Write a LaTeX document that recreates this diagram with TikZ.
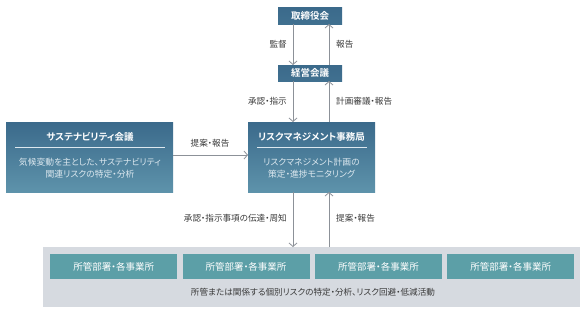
\documentclass[tikz,border=0pt]{standalone}
\usepackage{fontspec}
\setmainfont{Noto Sans CJK JP}[BoldFont={Noto Sans CJK JP Bold}, RawFeature=+palt]
\usetikzlibrary{arrows.meta,positioning}
\definecolor{boxtop}{HTML}{3B6A8B}
\definecolor{boxbot}{HTML}{5E93AB}
\definecolor{teal}{HTML}{5C9FA7}
\definecolor{graybg}{HTML}{D6DAE0}
\definecolor{arrowc}{HTML}{8C9198}
\definecolor{txt}{HTML}{3A3A3A}
\definecolor{lightt}{HTML}{DCE8EF}
\tikzset{
  topbox/.style={draw=none, top color=boxtop, bottom color=boxtop!85!boxbot, text=white, font=\bfseries\fontsize{9.5}{10}\selectfont, inner sep=0pt, anchor=north west},
  bigbox/.style={draw=none, top color=boxtop, bottom color=boxbot, inner sep=0pt, anchor=north west},
  unitbox/.style={draw=none, fill=teal, text=white, font=\fontsize{9.5}{10}\selectfont, inner sep=0pt, anchor=north west, minimum width=127pt, minimum height=25pt},
  conn/.style={draw=arrowc, line width=0.8pt, -{Straight Barb[length=3.5pt,width=8pt,line width=0.8pt]}},
  lbl/.style={text=txt, font=\fontsize{8.6}{10}\selectfont, inner sep=1pt},
  ttl/.style={text=white, font=\bfseries\fontsize{9.5}{10}\selectfont, inner sep=0pt},
  bdy/.style={text=lightt, font=\fontsize{8.8}{12}\selectfont, inner sep=0pt, align=center},
}
\begin{document}
\begin{tikzpicture}[x=1pt,y=-1pt]
\useasboundingbox (0,0) rectangle (587,314);
% top boxes
\node[topbox, minimum width=64pt, minimum height=17pt] (board) at (278,7) {取締役会};
\node[topbox, minimum width=64pt, minimum height=16pt] (mgmt) at (278,65) {経営会議};
% big boxes
\node[bigbox, minimum width=127pt, minimum height=70pt] (rm) at (248,122) {};
\node[bigbox, minimum width=167pt, minimum height=70pt] (sus) at (6,122) {};
\node[ttl] (rmt) at (311.5,137) {リスクマネジメント事務局};
\draw[lightt, line width=0.6pt] (257,147) -- (367,147);
\node[bdy] (rmb) at (311.5,168) {リスクマネジメント計画の\\策定・進捗モニタリング};
\node[ttl] (sust) at (90,137) {サステナビリティ会議};
\draw[lightt, line width=0.6pt] (15,147) -- (165,147);
\node[bdy] (susb) at (90,168) {気候変動を主とした、サステナビリティ\\関連リスクの特定・分析};
% bottom gray area
\node[draw=none, fill=graybg, inner sep=0pt, anchor=north west, minimum width=537pt, minimum height=60pt] (bg) at (43,247) {};
\node[unitbox] (u1) at (50,254) {所管部署・各事業所};
\node[unitbox] (u2) at (182.3,254) {所管部署・各事業所};
\node[unitbox] (u3) at (314.7,254) {所管部署・各事業所};
\node[unitbox] (u4) at (447,254) {所管部署・各事業所};
\node[lbl, text=txt] (act) at (313,292) {所管または関係する個別リスクの特定・分析、リスク回避・低減活動};
% coordinates for arrows
\coordinate (a1s) at (293,24); \coordinate (a1e) at (293,65);
\coordinate (b1s) at (329,65); \coordinate (b1e) at (329,24);
\coordinate (a2s) at (293,81); \coordinate (a2e) at (293,122);
\coordinate (b2s) at (329,122); \coordinate (b2e) at (329,81);
\coordinate (a3s) at (293,192); \coordinate (a3e) at (293,247);
\coordinate (b3s) at (329,247); \coordinate (b3e) at (329,192);
\coordinate (hs) at (173,155); \coordinate (he) at (248,155);
\draw[conn] (a1s) -- (a1e);
\draw[conn] (b1s) -- (b1e);
\draw[conn] (a2s) -- (a2e);
\draw[conn] (b2s) -- (b2e);
\draw[conn] (a3s) -- (a3e);
\draw[conn] (b3s) -- (b3e);
\draw[conn] (hs) -- (he);
% labels
\node[lbl, anchor=east] (l1) at (288,44) {監督};
\node[lbl, anchor=west] (l2) at (335,44) {報告};
\node[lbl, anchor=east] (l3) at (288,101) {承認・指示};
\node[lbl, anchor=west] (l4) at (335,101) {計画審議・報告};
\node[lbl] (l5) at (210,143) {提案・報告};
\node[lbl, anchor=east] (l6) at (288,218) {承認・指示事項の伝達・周知};
\node[lbl, anchor=west] (l7) at (335,218) {提案・報告};
\end{tikzpicture}
\end{document}
